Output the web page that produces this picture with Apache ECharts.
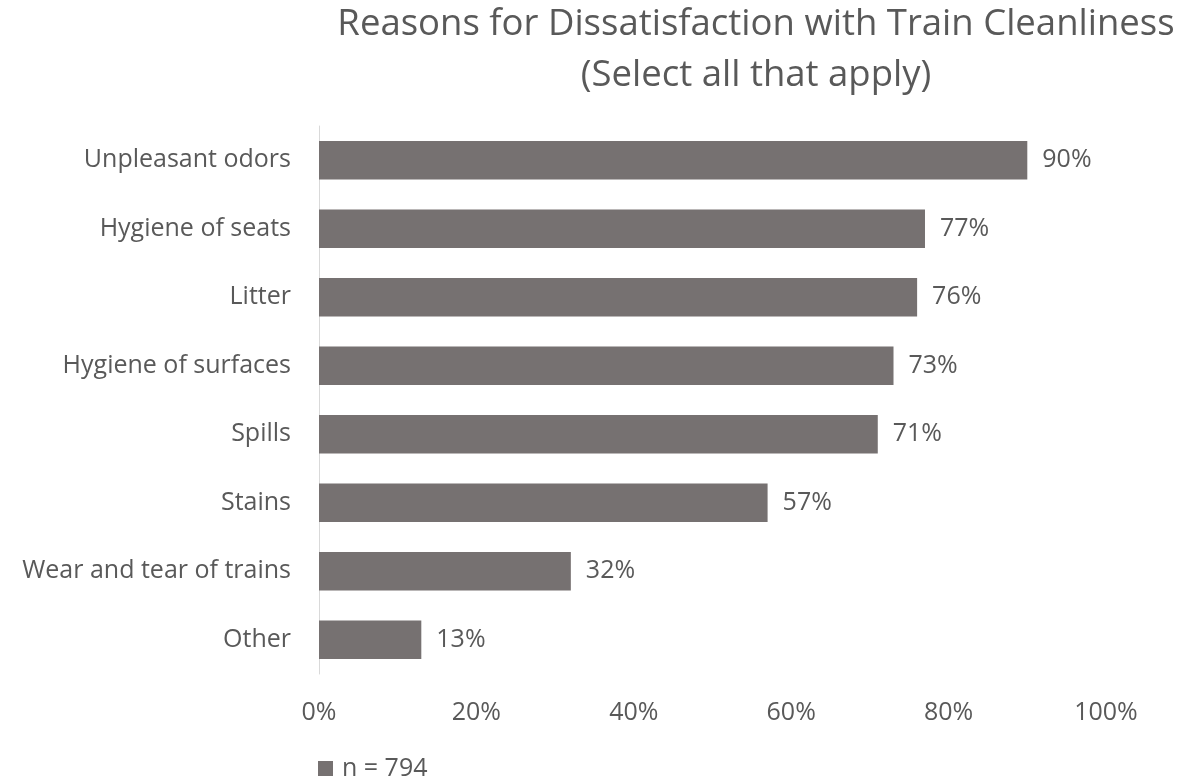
<!DOCTYPE html>
<html><head><meta charset="utf-8">
<script src="https://cdn.jsdelivr.net/npm/echarts@6/dist/echarts.min.js"></script>
<style>html,body{margin:0;padding:0;background:#fff}#c{width:1184px;height:782px}</style>
</head><body><div id="c"></div>
<script>
const categories = ["Unpleasant odors","Hygiene of seats","Litter","Hygiene of surfaces","Spills","Stains","Wear and tear of trains","Other"];
const values = [90,77,76,73,71,57,32,13];
const seriesName = "n = 794";
const xTicks = [0,20,40,60,80,100];
const titleLines = ["Reasons for Dissatisfaction with Train Cleanliness","(Select all that apply)"];

const font = "'Open Sans', sans-serif";
const chart = echarts.init(document.getElementById('c'), null, {renderer:'canvas'});
chart.setOption({
  animation:false,
  backgroundColor:'#fff',
  title:{
    text: titleLines.join('\n'),
    left: 756, top: -1, padding:0, textAlign:'center',
    textStyle:{fontFamily:font, fontSize:36.5, fontWeight:'normal', color:'#595959', lineHeight:51}
  },
  legend:{
    data:[seriesName], left:318, top:756, padding:0, itemWidth:15, itemHeight:15,
    textStyle:{fontFamily:font, fontSize:25, color:'#595959', padding:[0,0,0,4]}, icon:'rect'
  },
  grid:{left:319, right:78, top:126, bottom:108, containLabel:false},
  xAxis:{
    type:'value', min:0, max:100, interval:20,
    axisLine:{show:false}, axisTick:{show:false}, splitLine:{show:false},
    axisLabel:{fontFamily:font, fontSize:25, color:'#595959', margin:26, formatter: v => v + '%'}
  },
  yAxis:{
    type:'category', data:categories, inverse:true,
    axisLine:{show:true, lineStyle:{color:'#d9d9d9', width:1}},
    axisTick:{show:false},
    axisLabel:{fontFamily:font, fontSize:25, color:'#595959', margin:28}
  },
  series:[{
    name:seriesName, type:'bar', data:values, barCategoryGap:'44%',
    itemStyle:{color:'#767171'},
    label:{show:true, position:'right', distance:15, formatter: p => p.value + '%',
      fontFamily:font, fontSize:25, color:'#595959'}
  }]
});
</script></body></html>
